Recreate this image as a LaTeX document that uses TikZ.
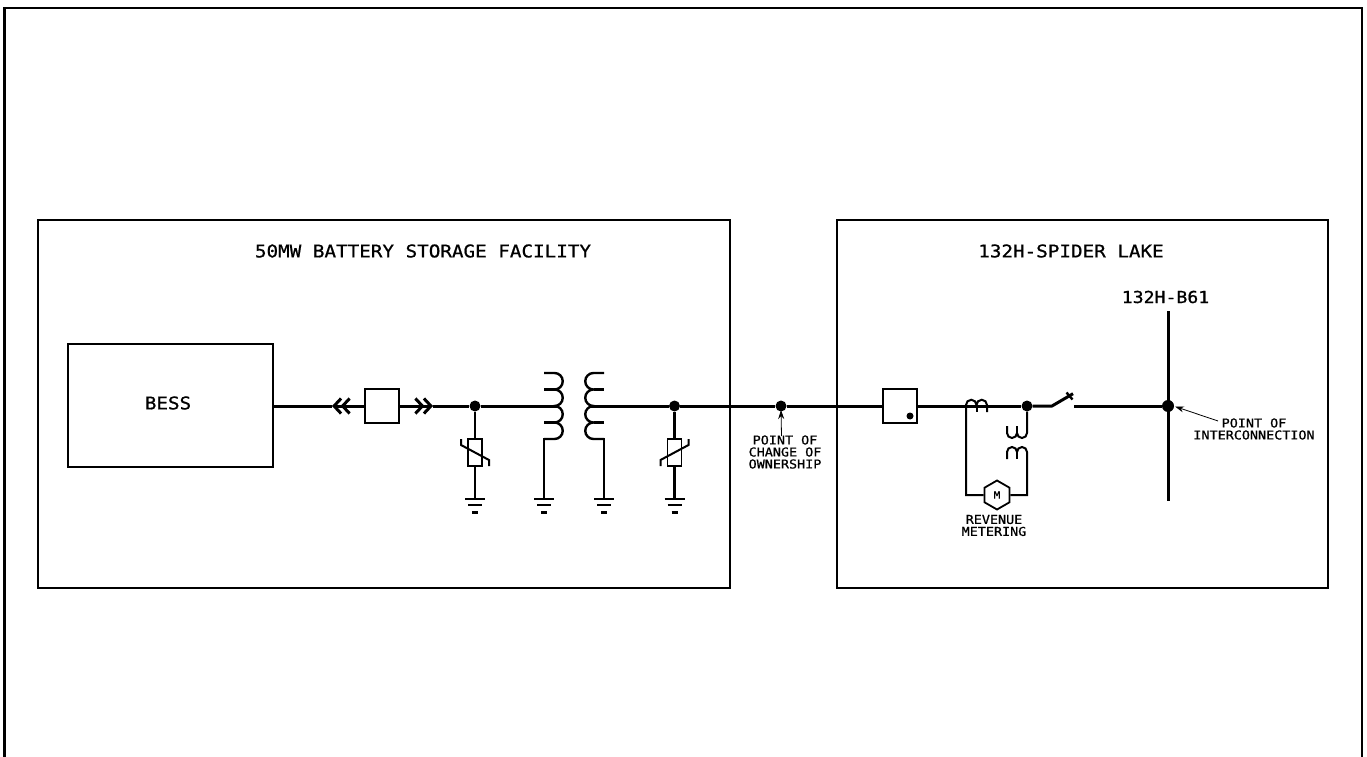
\documentclass[tikz,border=0pt]{standalone}
\usepackage{tikz}
\usepackage{fontspec}
\setmainfont{DejaVu Sans Mono}[FakeStretch=1.1,FakeBold=0.8]
\usetikzlibrary{arrows.meta}
\usetikzlibrary{calc}
\usetikzlibrary{shapes}

\begin{document}
\begin{tikzpicture}[x=1pt, y=-1pt, line cap=butt,
        box_style/.style={rectangle,draw=black,line width=1.8pt,fill=white,inner sep=0pt},
        dot_style/.style={circle,fill=black,inner sep=0pt,minimum size=11pt},
        meter_style/.style={regular polygon,regular polygon sides=6,shape border rotate=30,draw=black,line width=1.8pt,inner sep=0pt,minimum size=29pt,font=\fontsize{10}{10}\selectfont},
        title_style/.style={font=\fontsize{17.5}{17.5}\selectfont,inner sep=0pt},
        small_style/.style={align=center,font=\fontsize{12.2}{12}\selectfont,inner sep=0pt},
        bus_style/.style={draw=black,line width=3pt},
        wire_style/.style={draw=black,line width=2pt},
        coil_style/.style={draw=black,line width=2.4pt},
        leader_style/.style={draw=black,line width=0.8pt,-{Stealth[length=9pt,width=6pt]}},
        drawout_style/.style={draw=black,line width=3pt,-{Straight Barb[length=7pt,width=15pt,sep=-2pt] Straight Barb[length=7pt,width=15pt]}},
        ground_pic/.pic={
            \draw [line width=2pt] (-10,0) -- (10,0);
            \draw [line width=2pt] (-7,6) -- (7,6);
            \draw [line width=3pt] (-3,13) -- (3,13);
        }]

        \path [use as bounding box] (0,0) rectangle (1367,757);

        % frame, open at the bottom
        \draw [wire_style] (4,757) -- (4,8) -- (1362,8) -- (1362,757);
        \draw [bus_style] (4,757) -- (4,7);

        \node [box_style,minimum width=692pt,minimum height=368pt](facility) at (384,404) {};
        \node [box_style,minimum width=491pt,minimum height=368pt](station) at (1082.5,404) {};
        \node [title_style] at (423,251) {50MW BATTERY STORAGE FACILITY};
        \node [title_style] at (1071,251) {132H-SPIDER LAKE};

        \node [box_style,minimum width=205pt,minimum height=123pt](bess) at (170.5,405.5) {};
        \node [title_style] at (168,403) {BESS};
        \node [box_style,minimum size=34pt](inverter) at (382.3,406) {};
        \node [box_style,minimum size=34pt](breaker) at (900,406) {};
        \node [dot_style,minimum size=7pt] at (910,416) {};

        \coordinate (chevron_a) at (332,406);
        \coordinate (chevron_b) at (433,406);
        \node [dot_style](j1) at (475,406) {};
        \node [dot_style](j2) at (674.5,406) {};
        \node [dot_style](change) at (781,406) {};
        \node [dot_style](j3) at (1027,406) {};
        \node [dot_style,minimum size=12pt](poi) at (1168,406) {};
        \coordinate (prim_in) at (558,406);
        \coordinate (sec_out) at (590,406);
        \coordinate (blade_a) at (1052,406);
        \coordinate (blade_b) at (1073,393.7);
        \coordinate (blade_c) at (1074,406);

        % main line
        \draw [drawout_style] (inverter.west) -- (chevron_a);
        \draw [bus_style] (chevron_a) -- (bess.east |- chevron_a);
        \draw [drawout_style] (inverter.east) -- (chevron_b);
        \draw [bus_style] (chevron_b) -- (j1);
        \draw [bus_style] (j1) -- (prim_in);
        \draw [bus_style] (sec_out) -- (j2);
        \draw [bus_style] (j2) -- (change);
        \draw [bus_style] (change) -- (breaker.west);
        \draw [bus_style] (breaker.east) -- (j3);
        \draw [bus_style,line join=bevel] (j3) -- (blade_a) -- (blade_b);
        \draw [bus_style,line width=2.4pt] (1066.5,392.5) -- (1072.5,399.5);
        \draw [bus_style] (blade_c) -- (poi);

        % 132H-B61
        \coordinate (bus_top) at (1168,311);
        \coordinate (bus_end) at (1168,501);
        \draw [bus_style] (bus_top) -- (bus_end);
        \node [font=\fontsize{16.5}{16.5}\selectfont,inner sep=0pt] at (1165.5,297) {132H-B61};

        % transformer
        \draw [coil_style] (544,373) -- (554.5,373) arc (-90:90:8.25) arc (-90:90:8.25) arc (-90:90:8.25) arc (-90:90:8.25) -- (544,439);
        \draw [coil_style] (554.5,389.5) -- (544,389.5);
        \draw [coil_style] (554.5,422.5) -- (544,422.5);
        \draw [coil_style] (604,373) -- (593.5,373) arc (270:90:8.25) arc (270:90:8.25) arc (270:90:8.25) arc (270:90:8.25) -- (604,439);
        \draw [coil_style] (593.5,389.5) -- (604,389.5);
        \draw [coil_style] (593.5,422.5) -- (604,422.5);
        \draw [coil_style] (544,438) -- (544,499);
        \draw [coil_style] (604,438) -- (604,499);
        \pic at (544,499) {ground_pic};
        \pic at (604,499) {ground_pic};

        % arresters
        \node [box_style,minimum width=14pt,minimum height=27pt](arrester_a) at (475,452.5) {};
        \node [box_style,minimum width=14pt,minimum height=27pt](arrester_b) at (674.5,452.5) {};
        \draw [coil_style] (j1) -- (arrester_a);
        \draw [bus_style] (j2) -- (arrester_b);
        \coordinate (gnd_a) at (475,499);
        \coordinate (gnd_b) at (674.5,499);
        \draw [coil_style] (arrester_a) -- (gnd_a);
        \draw [bus_style] (arrester_b) -- (gnd_b);
        \draw [wire_style] (461,439) -- (461,445) -- (489,460) -- (489,466);
        \draw [wire_style] (660.5,466) -- (660.5,460) -- (688.5,445) -- (688.5,439);
        \pic at (gnd_a) {ground_pic};
        \pic at (gnd_b) {ground_pic};

        % metering
        \node [meter_style](meter) at (997,495) {M};
        \draw [wire_style] (meter.west) -- (966,495) -- (966,405) arc (180:360:5.25) arc (180:360:5.25) -- (987,412);
        \draw [wire_style] (976.5,405) -- (976.5,412);
        \draw [wire_style] (j3) -- (1027,433) arc (0:180:5) arc (0:180:5) -- (1007,426);
        \draw [wire_style] (1017,433) -- (1017,426);
        \draw [wire_style] (meter.east) -- (1027,495) -- (1027,452) arc (0:-180:5) arc (0:-180:5) -- (1007,459);
        \draw [wire_style] (1017,452) -- (1017,459);

        % labels
        \node [small_style](revenue) at (994,525.5) {REVENUE\\METERING};
        \node [small_style](change_label) at (785,452) {POINT OF\\CHANGE OF\\OWNERSHIP};
        \node [small_style](poi_label) at (1254,429) {POINT OF\\INTERCONNECTION};
        \coordinate (change_from) at (781.5,436);
        \coordinate (poi_from) at (1218,421);
        \draw [leader_style] (change_from) -- (781,410);
        \draw [leader_style] (poi_from) -- (1175,406.5);

\end{tikzpicture}
\end{document}
